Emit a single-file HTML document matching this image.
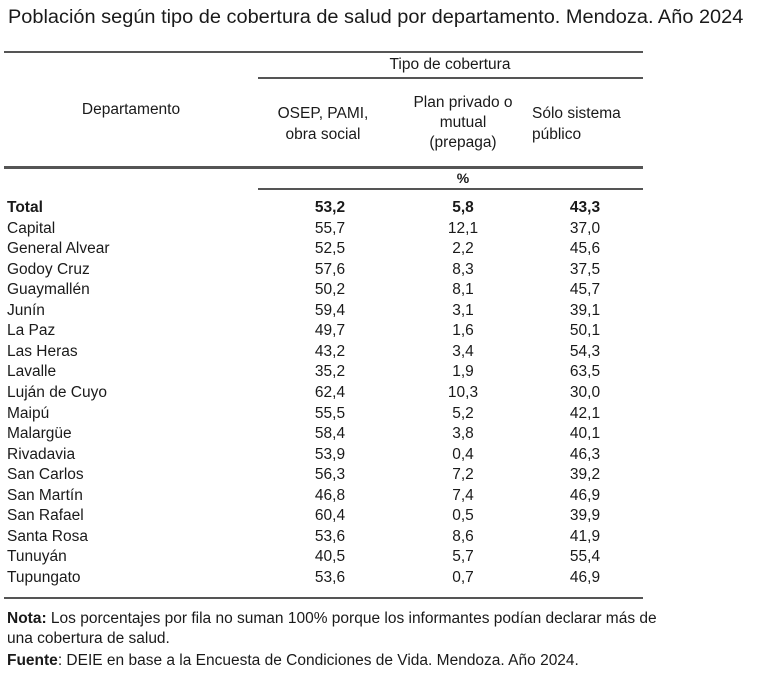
<!DOCTYPE html>
<html><head><meta charset="utf-8"><style>
body{margin:0;background:#fff;}
#c{position:relative;width:768px;height:679px;overflow:hidden;font-family:"Liberation Sans",Arial,sans-serif;color:#1a1a1a;font-size:15.5px;}
.t{position:absolute;white-space:nowrap;line-height:1;transform:scaleX(1.0);transform-origin:left center;}
.m{position:absolute;white-space:nowrap;line-height:1;transform:translateX(-50%) scaleX(1.0);transform-origin:center center;}
.l{position:absolute;background:#555;height:2px;}
b{font-weight:bold}
</style></head><body><div id="c">
<div class="t" style="left:8px;top:8px;font-size:19px;transform:scaleX(1.05)">Población según tipo de cobertura de salud por departamento. Mendoza. Año 2024</div>
<div class="l" style="left:4px;top:51px;width:639px"></div>
<div class="m" style="left:450px;top:57px">Tipo de cobertura</div>
<div class="l" style="left:258px;top:77px;width:385px"></div>
<div class="m" style="left:131px;top:102px">Departamento</div>
<div class="m" style="left:323px;top:103px;line-height:21px;text-align:center">OSEP, PAMI,<br>obra social</div>
<div class="m" style="left:463px;top:93px;line-height:20px;text-align:center">Plan privado o<br>mutual<br>(prepaga)</div>
<div class="t" style="left:532px;top:103px;line-height:21px">Sólo sistema<br>público</div>
<div class="l" style="left:4px;top:166px;width:639px;height:2.5px"></div>
<div class="m" style="left:463px;top:171px;font-weight:bold;font-size:14px">%</div>
<div class="l" style="left:258px;top:188px;width:385px"></div>
<div id="rows"></div>
<div class="l" style="left:4px;top:597px;width:639px"></div>
<div class="t" style="left:7px;top:611px"><b>Nota:</b> Los porcentajes por fila no suman 100% porque los informantes podían declarar más de</div>
<div class="t" style="left:7px;top:631px">una cobertura de salud.</div>
<div class="t" style="left:7px;top:653px"><b>Fuente</b>: DEIE en base a la Encuesta de Condiciones de Vida. Mendoza. Año 2024.</div>
</div>
<script>
var d=[["Total","53,2","5,8","43,3"],["Capital","55,7","12,1","37,0"],["General Alvear","52,5","2,2","45,6"],["Godoy Cruz","57,6","8,3","37,5"],["Guaymallén","50,2","8,1","45,7"],["Junín","59,4","3,1","39,1"],["La Paz","49,7","1,6","50,1"],["Las Heras","43,2","3,4","54,3"],["Lavalle","35,2","1,9","63,5"],["Luján de Cuyo","62,4","10,3","30,0"],["Maipú","55,5","5,2","42,1"],["Malargüe","58,4","3,8","40,1"],["Rivadavia","53,9","0,4","46,3"],["San Carlos","56,3","7,2","39,2"],["San Martín","46,8","7,4","46,9"],["San Rafael","60,4","0,5","39,9"],["Santa Rosa","53,6","8,6","41,9"],["Tunuyán","40,5","5,7","55,4"],["Tupungato","53,6","0,7","46,9"]];
var h="";
d.forEach(function(r,i){var y=200+i*20.55;var s=i==0?"font-weight:bold;":"";
h+='<div class="t" style="'+s+'left:7px;top:'+y+'px">'+r[0]+'</div>';
h+='<div class="m" style="'+s+'left:330px;top:'+y+'px">'+r[1]+'</div>';
h+='<div class="m" style="'+s+'left:463px;top:'+y+'px">'+r[2]+'</div>';
h+='<div class="m" style="'+s+'left:585px;top:'+y+'px">'+r[3]+'</div>';});
document.getElementById("rows").innerHTML=h;
</script>
</body></html>
